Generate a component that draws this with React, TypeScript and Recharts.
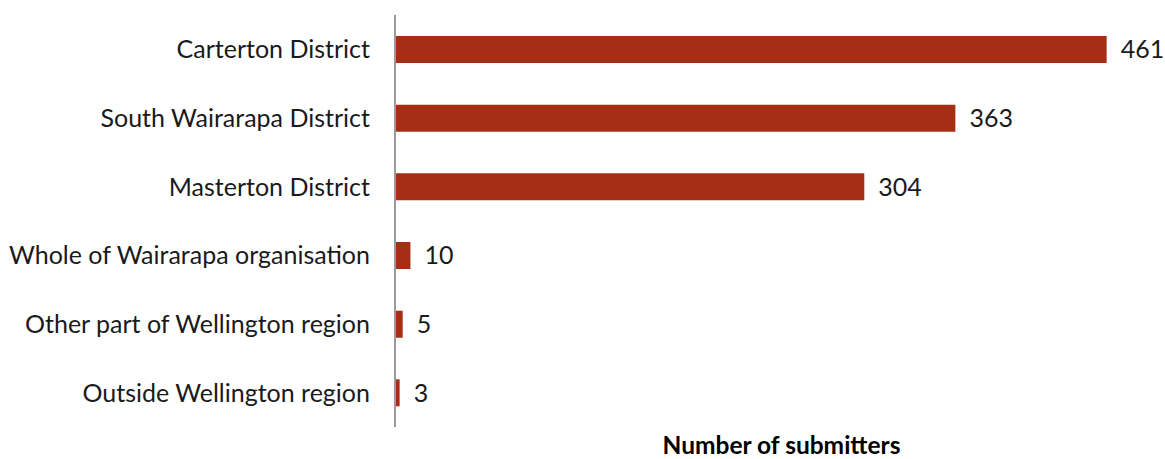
import { BarChart, Bar, XAxis, YAxis, LabelList } from "recharts";

const regions = [
  "Carterton District",
  "South Wairarapa District",
  "Masterton District",
  "Whole of Wairarapa organisation",
  "Other part of Wellington region",
  "Outside Wellington region",
];
const submitters = [461, 363, 304, 10, 5, 3];

const data = regions.map((name, i) => ({ name, value: submitters[i] }));

const FONT = "Lato, 'Open Sans', sans-serif";

export default function App() {
  return (
    <div style={{ position: "absolute", left: 0, top: 0, background: "#fff", fontFamily: FONT }}>
      <BarChart
        width={1165}
        height={459}
        data={data}
        layout="vertical"
        margin={{ top: 15, right: 29, bottom: 0, left: 0 }}
        barCategoryGap={0}
      >
        <XAxis
          type="number"
          domain={[0, 480]}
          height={32}
          tick={false}
          axisLine={false}
          tickLine={false}
          label={{
            value: "Number of submitters",
            position: "insideBottom",
            offset: 5,
            dx: 16,
            fill: "#000",
            fontSize: 24.5,
            fontWeight: 700,
            fontFamily: FONT,
          }}
        />
        <YAxis
          type="category"
          dataKey="name"
          width={395}
          axisLine={{ stroke: "#9a9a9a", strokeWidth: 2 }}
          tickLine={false}
          tickSize={0}
          tickMargin={25}
          tick={{ fill: "#1a1a1a", fontSize: 25, fontFamily: FONT }}
        />
        <Bar dataKey="value" fill="#A52F15" barSize={27} isAnimationActive={false}>
          <LabelList
            dataKey="value"
            position="right"
            offset={14}
            fill="#1a1a1a"
            fontSize={25}
            fontFamily={FONT}
          />
        </Bar>
      </BarChart>
    </div>
  );
}
